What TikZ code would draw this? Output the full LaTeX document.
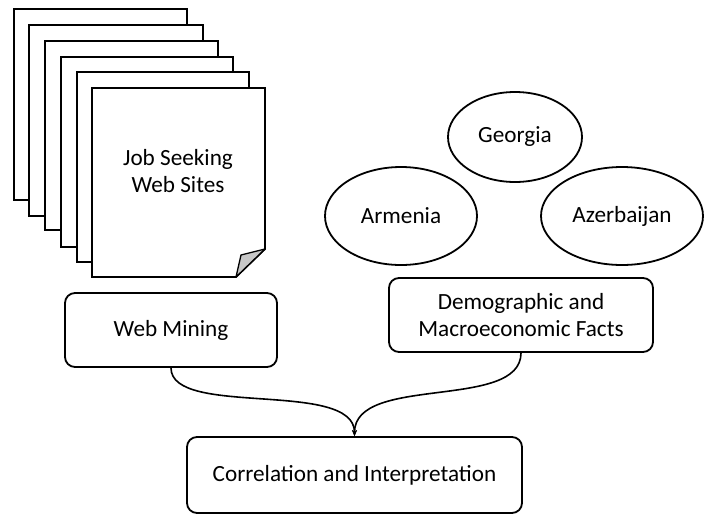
\documentclass[tikz,border=0pt]{standalone}
\usepackage{fontspec}
\setmainfont{Carlito}
\usetikzlibrary{arrows.meta,shapes.geometric}
\tikzset{
  lbl/.style={font=\fontsize{23.2}{27.5}\selectfont, align=center, text=black},
  box/.style={lbl, draw=black, line width=1.8pt, rounded corners=10pt, fill=white},
  country/.style={lbl, draw=black, line width=1.8pt, ellipse, fill=white},
  sheet/.style={draw=black, line width=1.8pt, fill=white, line join=miter},
  curl/.style={draw=black, line width=1.3pt, fill=black!22, line join=round},
  conn/.style={draw=black, line width=1.6pt, -{Stealth[length=6pt,width=5pt]}}
}
\begin{document}
\begin{tikzpicture}[x=1pt,y=-1pt]
\useasboundingbox (0,0) rectangle (709,515);
% stacked sheets
\path[sheet] (14,9) rectangle (187,200);
\path[sheet] (29,25) rectangle (203,216);
\path[sheet] (45,41) rectangle (218,230);
\path[sheet] (61,57) rectangle (233,247);
\path[sheet] (77,72) rectangle (249,262);
\path[sheet] (92,88) -- (265,88) -- (265,249) -- (236,277) -- (92,277) -- cycle;
\path[curl] (236,277) -- (241,255) -- (265,249) -- cycle;
\node[lbl] (jobs) at (178,171) {Job Seeking\\Web Sites};
% countries
\node[country, minimum width=134pt, minimum height=90pt] (georgia) at (515,137) {Georgia};
\node[country, minimum width=152pt, minimum height=98pt] (armenia) at (401,216) {Armenia};
\node[country, minimum width=162pt, minimum height=98pt] (azer) at (622,216) {Azerbaijan};
% boxes
\node[box, minimum width=212pt, minimum height=74pt] (web) at (171,330) {Web Mining};
\node[box, minimum width=264pt, minimum height=74pt] (demo) at (521,315) {Demographic and\\Macroeconomic Facts};
\node[box, minimum width=335pt, minimum height=76pt] (corr) at (354.5,475) {Correlation and Interpretation};
% connectors
\draw[conn] (web.south) .. controls +(0,50) and +(0,-57) .. (corr.north);
\draw[conn] (demo.south) .. controls +(0,58) and +(0,-62) .. (corr.north);
\end{tikzpicture}
\end{document}
